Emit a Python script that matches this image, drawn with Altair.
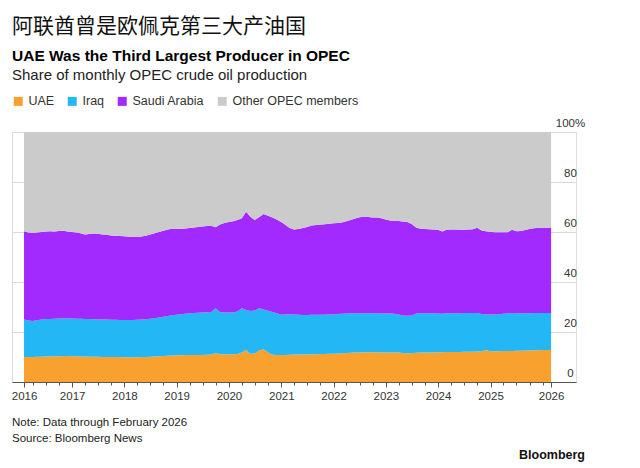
import altair as alt
import pandas as pd

FONT = "Liberation Sans"
CJK = "Noto Sans CJK SC"

series_names = ["UAE", "Iraq", "Saudi Arabia", "Other OPEC members"]
series_colors = ["#F9A12E", "#23B8F5", "#A32AFF", "#CBCBCB"]

# monthly observations, Jan 2016 .. Feb 2026 (month-end)
months = pd.date_range("2016-01-01", periods=122, freq="MS") + pd.offsets.MonthEnd(0)

# cumulative share boundaries (% of OPEC output)
uae_top = (
    [10.0, 10.0, 10.0, 10.1, 10.1, 10.2, 10.2, 10.3, 10.3, 10.4, 10.4, 10.3]
    + [10.3, 10.2, 10.2, 10.1, 10.1, 10.1, 10.0, 10.0, 10.0, 10.0, 10.0, 9.9]
    + [9.9, 9.9, 9.9, 10.0, 10.0, 10.1, 10.2, 10.3, 10.4, 10.5, 10.6, 10.7]
    + [10.7, 10.8, 10.8, 10.8, 10.8, 10.8, 10.9, 11.0, 11.6, 11.1, 11.1, 11.1]
    + [11.1, 11.2, 11.8, 12.8, 11.2, 11.5, 12.6, 13.1, 11.8, 10.9, 10.8, 10.8]
    + [10.8, 10.9, 11.0, 11.0, 11.0, 11.0, 11.1, 11.1, 11.2, 11.2, 11.3, 11.3]
    + [11.4, 11.5, 11.6, 11.7, 11.8, 11.8, 11.9, 11.9, 11.9, 11.9, 11.8, 11.8]
    + [11.8, 11.8, 11.8, 11.6, 11.5, 11.5, 11.7, 11.8, 11.8, 11.8, 11.8, 11.9]
    + [11.9, 12.0, 12.0, 12.0, 12.0, 12.1, 12.1, 12.1, 12.2, 12.3, 12.8, 12.3]
    + [12.3, 12.3, 12.4, 12.4, 12.4, 12.5, 12.5, 12.6, 12.6, 12.7, 12.7, 12.8]
    + [12.8, 12.8]
)
iraq_top = (
    [25.0, 24.6, 24.4, 24.7, 25.0, 25.2, 25.2, 25.3, 25.4, 25.4, 25.5, 25.4]
    + [25.3, 25.3, 25.2, 25.2, 25.1, 25.0, 25.0, 25.0, 24.9, 24.9, 24.8, 24.8]
    + [24.8, 24.8, 24.9, 25.0, 25.1, 25.3, 25.5, 25.8, 26.1, 26.4, 26.7, 26.9]
    + [27.1, 27.3, 27.5, 27.6, 27.7, 27.8, 27.9, 28.0, 29.5, 27.9, 27.8, 27.8]
    + [27.8, 28.2, 29.5, 28.8, 28.4, 28.6, 29.5, 29.0, 28.5, 28.0, 27.5, 26.9]
    + [27.0, 27.1, 27.0, 26.9, 26.8, 26.8, 26.9, 26.9, 26.9, 26.9, 27.0, 27.0]
    + [27.2, 27.3, 27.4, 27.5, 27.5, 27.5, 27.5, 27.5, 27.5, 27.5, 27.4, 27.4]
    + [27.4, 27.3, 27.0, 26.6, 26.5, 26.6, 27.4, 27.5, 27.5, 27.5, 27.5, 27.4]
    + [27.3, 27.5, 27.5, 27.5, 27.5, 27.6, 27.6, 27.6, 27.6, 27.2, 27.0, 27.0]
    + [27.0, 27.1, 27.3, 27.4, 27.6, 27.5, 27.5, 27.5, 27.5, 27.6, 27.6, 27.6]
    + [27.6, 27.6]
)
saudi_top = (
    [60.3, 59.8, 59.6, 59.8, 60.0, 60.2, 60.3, 60.2, 60.4, 60.5, 60.2, 60.0]
    + [59.8, 59.5, 59.0, 59.2, 59.4, 59.3, 59.0, 58.9, 58.6, 58.5, 58.4, 58.3]
    + [58.1, 58.0, 58.0, 58.2, 58.5, 59.0, 59.5, 60.0, 60.5, 61.0, 61.3, 61.3]
    + [61.2, 61.4, 61.6, 61.8, 62.0, 62.2, 62.4, 62.5, 61.9, 63.0, 63.6, 64.0]
    + [64.3, 64.8, 65.5, 68.1, 66.0, 64.8, 66.0, 67.2, 66.5, 65.8, 65.0, 64.0]
    + [62.8, 61.6, 61.0, 61.2, 61.6, 62.0, 62.6, 62.8, 62.9, 63.1, 63.3, 63.5]
    + [63.6, 63.8, 64.3, 64.8, 65.4, 65.9, 66.1, 66.0, 65.8, 65.8, 65.5, 65.0]
    + [64.6, 64.5, 64.4, 64.2, 64.0, 63.2, 61.8, 61.3, 61.2, 61.1, 61.0, 60.9]
    + [60.2, 60.9, 61.0, 61.0, 60.9, 60.9, 61.0, 61.1, 61.7, 60.6, 60.3, 60.1]
    + [59.9, 59.9, 59.9, 59.9, 60.9, 60.3, 60.4, 60.8, 61.2, 61.5, 61.7, 61.7]
    + [61.7, 61.8]
)

n = len(months)
floor = [0.0] * n
ceiling = [100.0] * n
bounds = [(floor, uae_top), (uae_top, iraq_top), (iraq_top, saudi_top), (saudi_top, ceiling)]

rows = []
for name, (lo, hi) in zip(series_names, bounds):
    for d, a, b in zip(months, lo, hi):
        rows.append({"date": d, "series": name, "lo": a, "hi": b})
df = pd.DataFrame(rows)

major_ticks = (
    [alt.DateTime(year=2016, month=1, date=31)]
    + [alt.DateTime(year=y, month=1, date=1) for y in range(2017, 2026)]
    + [alt.DateTime(year=2026, month=2, date=28)]
)
minor_ticks = [
    alt.DateTime(year=y, month=m, date=1) for y in range(2016, 2026) for m in (4, 7, 10)
] + [alt.DateTime(year=2026, month=1, date=1)]

x_scale = alt.Scale(domain=[alt.DateTime(year=2015, month=11, date=8),
                            alt.DateTime(year=2026, month=8, date=21)])

areas = alt.Chart(df).mark_area(interpolate="linear").encode(
    x=alt.X("date:T", scale=x_scale, title=None,
            axis=alt.Axis(orient="bottom", values=major_ticks, format="%Y", tickSize=5,
                          tickColor="#555", domainColor="#555", labelFontSize=11.5,
                          labelColor="#333", labelPadding=3, labelFlush=False,
                          labelOverlap=False, grid=False, zindex=1, labelFont=FONT)),
    y=alt.Y("hi:Q", scale=alt.Scale(domain=[0, 100]), title=None,
            axis=alt.Axis(orient="right", values=[0, 20, 40, 60, 80, 100],
                          labelExpr="datum.value == 100 ? '100%' : datum.label",
                          grid=True, gridColor="#d9d9d9", domain=False, ticks=False,
                          tickSize=0, labelAlign="center", labelPadding=-6,
                          labelBaseline="bottom", labelOffset=-4, labelFontSize=11.5,
                          labelColor="#333", labelOverlap=False, zindex=0, labelFont=FONT)),
    y2="lo:Q",
    color=alt.Color("series:N",
                    scale=alt.Scale(domain=series_names, range=series_colors),
                    legend=alt.Legend(orient="none", legendX=0, legendY=-37,
                                      direction="horizontal", title=None,
                                      symbolType="square", symbolSize=81,
                                      symbolStrokeWidth=0, labelFontSize=12.5,
                                      labelColor="#333", labelFont=FONT,
                                      columnPadding=11, labelOffset=4, padding=0)),
)

minor = alt.Chart(df).mark_point(opacity=0).encode(
    x=alt.X("date:T", title=None,
            axis=alt.Axis(orient="bottom", values=minor_ticks, labels=False, tickSize=3,
                          tickColor="#555", domain=False, grid=False, zindex=1)),
)


def text_layer(txt, x, y, size, weight="normal", font=FONT, color="#000", align="left",
               baseline="middle"):
    return alt.Chart(pd.DataFrame({"t": [txt]})).mark_text(
        align=align, baseline=baseline, fontSize=size, fontWeight=weight,
        font=font, color=color
    ).encode(text="t:N", x=alt.value(x), y=alt.value(y))


texts = [
    text_layer("阿联酋曾是欧佩克第三大产油国", 0, -99, 21, font=CJK, color="#111",
               baseline="alphabetic"),
    text_layer("UAE Was the Third Largest Producer in OPEC", 0, -76, 15.5, weight="bold"),
    text_layer("Share of monthly OPEC crude oil production", 0, -57, 15, color="#222"),
    text_layer("Note: Data through February 2026", 0, 291, 11.5, color="#222"),
    text_layer("Source: Bloomberg News", 0, 307, 11.5, color="#222"),
    text_layer("Bloomberg", 573, 323, 12.5, weight="bold", color="#111", align="right"),
]

chart = alt.layer(areas, minor, *texts).resolve_axis(x="independent").properties(
    width=564, height=250,
    padding={"left": 4, "top": 124, "right": 56, "bottom": 86},
    autosize=alt.AutoSizeParams(type="none"),
).configure_view(stroke=None).configure(font=FONT)

chart.save("out.html", embed_options={"renderer": "svg", "actions": False})
